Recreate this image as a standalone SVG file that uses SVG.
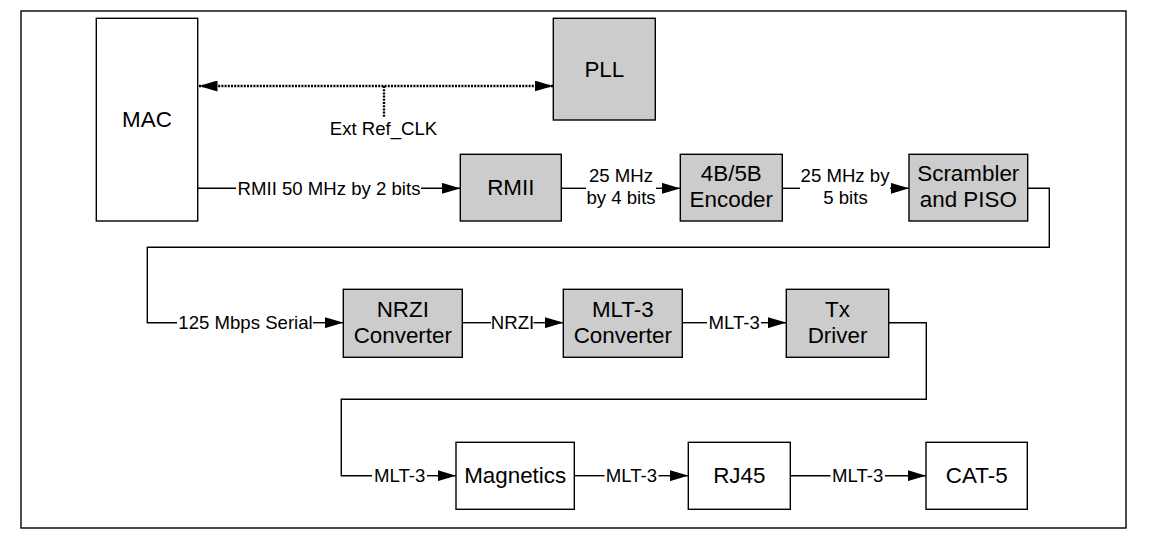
<svg xmlns="http://www.w3.org/2000/svg" width="1155" height="544" viewBox="0 0 1155 544">
<style>
.box{stroke:#000;stroke-width:1.4;fill:#fff}
.g{fill:#cccccc}
.bl{font-family:"Liberation Sans",Arial,sans-serif;font-size:22.4px;fill:#000;text-anchor:middle}
.el{font-family:"Liberation Sans",Arial,sans-serif;font-size:18.6px;fill:#000;text-anchor:middle}
.ln{fill:none;stroke:#000;stroke-width:1.4}
.ar{marker-end:url(#ah)}
.dot{fill:none;stroke:#000;stroke-width:2.4;stroke-dasharray:2 1.2}
</style>
<defs>
<marker id="ah" markerUnits="userSpaceOnUse" markerWidth="18.5" markerHeight="11" refX="18.5" refY="5.5" orient="auto-start-reverse">
<path d="M0,0 L18.5,5.5 L0,11 z" fill="#000"/>
</marker>
</defs>
<rect x="0" y="0" width="1155" height="544" fill="#fff"/>
<rect x="21" y="11" width="1105" height="517" fill="none" stroke="#000" stroke-width="1.4"/>

<g id="connectors">
<path class="dot" d="M199,86 H553" marker-start="url(#ah)" marker-end="url(#ah)"/>
<path class="dot" d="M384,86 V117"/>
<text class="el" x="383.5" y="134.5">Ext Ref_CLK</text>

<path class="ln" d="M198,188.3 H236"/>
<text class="el" x="329" y="194.8">RMII 50 MHz by 2 bits</text>
<path class="ln ar" d="M421,188.3 H460.3"/>

<path class="ln" d="M561.3,188.3 H586"/>
<text class="el" x="621" y="181.5">25 MHz</text>
<text class="el" x="621" y="203.5">by 4 bits</text>
<path class="ln ar" d="M656,188.3 H680.3"/>

<path class="ln" d="M782.3,188.3 H800"/>
<text class="el" x="845" y="182">25 MHz by</text>
<text class="el" x="845.5" y="204">5 bits</text>
<path class="ln ar" d="M890,188.3 H909"/>

<path class="ln" d="M1027.7,188.3 H1049.3 V247.3 H147.3 V322.7 H177"/>
<text class="el" x="245.5" y="329">125 Mbps Serial</text>
<path class="ln ar" d="M313,322.7 H343.3"/>

<path class="ln" d="M462.3,322.7 H491"/>
<text class="el" x="512.5" y="329">NRZI</text>
<path class="ln ar" d="M533.5,322.7 H563.3"/>

<path class="ln" d="M682.3,322.7 H707"/>
<text class="el" x="734.2" y="329">MLT-3</text>
<path class="ln ar" d="M761,322.7 H786.3"/>

<path class="ln" d="M888.7,322.7 H926.3 V399.3 H341.3 V475.7 H372"/>
<text class="el" x="399.7" y="482">MLT-3</text>
<path class="ln ar" d="M427,475.7 H456"/>

<path class="ln" d="M574.3,475.7 H604.5"/>
<text class="el" x="631.5" y="482">MLT-3</text>
<path class="ln ar" d="M658.5,475.7 H688.3"/>

<path class="ln" d="M790.3,475.7 H830.5"/>
<text class="el" x="857.7" y="482">MLT-3</text>
<path class="ln ar" d="M885,475.7 H926"/>
</g>

<g id="mac"><rect class="box" x="96.3" y="18.3" width="101.4" height="202.7"/><text class="bl" x="147" y="127">MAC</text></g>
<g id="pll"><rect class="box g" x="553.3" y="18.3" width="102" height="101.7"/><text class="bl" x="604.3" y="77">PLL</text></g>
<g id="rmii"><rect class="box g" x="460.3" y="154.3" width="101" height="66.7"/><text class="bl" x="510.8" y="195.3">RMII</text></g>
<g id="encoder"><rect class="box g" x="680.3" y="154.3" width="102" height="66.7"/><text class="bl" x="731.3" y="180.5">4B/5B</text><text class="bl" x="731.3" y="206.7">Encoder</text></g>
<g id="scrambler"><rect class="box g" x="909" y="154.3" width="118.7" height="66.7"/><text class="bl" x="968.3" y="180.7">Scrambler</text><text class="bl" x="968.3" y="207.3">and PISO</text></g>
<g id="nrzi"><rect class="box g" x="343.3" y="289.3" width="119" height="68"/><text class="bl" x="402.8" y="316.7">NRZI</text><text class="bl" x="402.8" y="343.3">Converter</text></g>
<g id="mlt3"><rect class="box g" x="563.3" y="289.3" width="119" height="68"/><text class="bl" x="622.8" y="316.5">MLT-3</text><text class="bl" x="622.8" y="343.3">Converter</text></g>
<g id="txdriver"><rect class="box g" x="786.3" y="289.3" width="102.4" height="68"/><text class="bl" x="837.5" y="316.7">Tx</text><text class="bl" x="837.5" y="343.3">Driver</text></g>
<g id="magnetics"><rect class="box" x="456" y="442.3" width="118.3" height="67"/><text class="bl" x="515.2" y="483">Magnetics</text></g>
<g id="rj45"><rect class="box" x="688.3" y="442.3" width="102" height="67"/><text class="bl" x="739.3" y="483">RJ45</text></g>
<g id="cat5"><rect class="box" x="926" y="442.3" width="101.3" height="67"/><text class="bl" x="976.7" y="483">CAT-5</text></g>
</svg>
